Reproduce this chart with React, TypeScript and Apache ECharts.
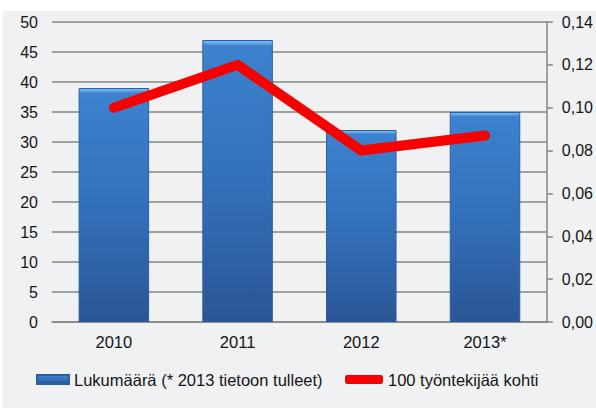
import React, { useEffect, useRef } from "react";
import * as echarts from "echarts";

const categories = ["2010", "2011", "2012", "2013*"];
const countValues = [39, 47, 32, 35];
const rateValues = [0.1, 0.12, 0.08, 0.087];
const countName = "Lukumäärä (* 2013 tietoon tulleet)";
const rateName = "100 työntekijää kohti";

const FONT = "'Liberation Sans', Arial, sans-serif";
const TEXT = "#151515";
const GRID = "#858585";

export default function App() {
  const ref = useRef<HTMLDivElement>(null);
  useEffect(() => {
    document.body.style.margin = "0";
    const chart = echarts.init(ref.current!, null, { renderer: "svg" });
    chart.setOption({
      animation: false,
      backgroundColor: "#ffffff",
      textStyle: { fontFamily: FONT, color: TEXT },
      graphic: [
        {
          type: "rect",
          z: -10,
          silent: true,
          shape: { x: 3, y: 11, width: 593, height: 397 },
          style: { fill: "#f0f1f3" },
        },
      ],
      grid: { left: 52, right: 48, top: 22, height: 300 },
      legend: [
        {
          left: 36,
          top: 371,
          padding: 0,
          itemWidth: 32,
          itemHeight: 9,
          textStyle: { fontSize: 16.5, color: TEXT, fontFamily: FONT },
          data: [{ name: countName, icon: "rect" }],
        },
        {
          left: 345,
          top: 371,
          padding: 0,
          itemWidth: 38,
          itemHeight: 9,
          textStyle: { fontSize: 16.5, color: TEXT, fontFamily: FONT },
          data: [{ name: rateName, icon: "roundRect" }],
        },
      ],
      xAxis: {
        type: "category",
        data: categories,
        axisLine: { show: true, lineStyle: { color: GRID, width: 1.5 } },
        axisTick: { show: false },
        axisLabel: { fontSize: 16.5, color: TEXT, margin: 11, fontFamily: FONT },
      },
      yAxis: [
        {
          type: "value",
          min: 0,
          max: 50,
          interval: 5,
          axisLine: { show: false },
          axisTick: { show: false },
          axisLabel: { fontSize: 16, color: TEXT, margin: 14, fontFamily: FONT },
          splitLine: { show: true, lineStyle: { color: GRID, width: 1.5 } },
        },
        {
          type: "value",
          min: 0,
          max: 0.14,
          interval: 0.02,
          position: "right",
          axisLine: { show: true, lineStyle: { color: GRID, width: 1.5 } },
          axisTick: { show: true, length: 6, lineStyle: { color: GRID, width: 1.5 } },
          axisLabel: {
            fontSize: 16,
            color: TEXT,
            margin: 15,
            fontFamily: FONT,
            formatter: (v: number) => v.toFixed(2).replace(".", ","),
          },
          splitLine: { show: false },
        },
      ],
      series: [
        {
          name: countName,
          type: "bar",
          data: countValues,
          barCategoryGap: "43%",
          itemStyle: {
            color: new echarts.graphic.LinearGradient(0, 0, 0, 1, [
              { offset: 0, color: "#86c2f2" },
              { offset: 0.012, color: "#5a9ee2" },
              { offset: 0.02, color: "#3c82ce" },
              { offset: 0.5, color: "#3370ba" },
              { offset: 1, color: "#2a5696" },
            ]),
            borderColor: "#2d5fa0",
            borderWidth: 1,
          },
        },
        {
          name: rateName,
          type: "line",
          yAxisIndex: 1,
          data: rateValues,
          showSymbol: false,
          symbol: "none",
          itemStyle: { color: "#f70000" },
          lineStyle: { color: "#f70000", width: 10, cap: "round", join: "round" },
          z: 5,
        },
      ],
    });
    return () => chart.dispose();
  }, []);
  return <div ref={ref} style={{ width: 596, height: 410 }} />;
}
